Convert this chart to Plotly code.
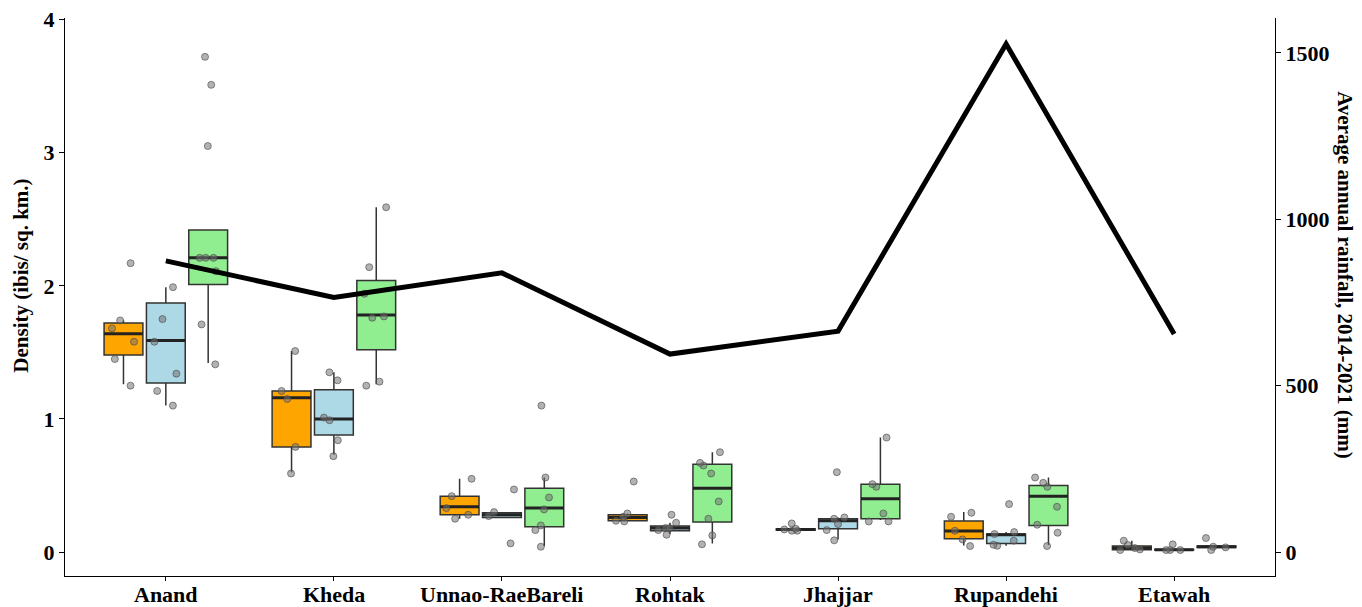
import plotly.graph_objects as go

districts = ["Anand", "Kheda", "Unnao-RaeBareli", "Rohtak", "Jhajjar", "Rupandehi", "Etawah"]
rainfall_mm = [875, 765, 839, 595, 664, 1527, 655]

# ---- orange group ----
orange_points = [
    [2.17, 1.74, 1.68, 1.58, 1.45, 1.25],
    [1.51, 1.21, 1.15, 0.79, 0.59],
    [0.55, 0.42, 0.33, 0.28, 0.25],
    [0.53, 0.29, 0.265, 0.235, 0.23],
    [0.215, 0.175, 0.17, 0.16, 0.16],
    [0.295, 0.265, 0.16, 0.095, 0.045],
    [0.085, 0.053, 0.03, 0.02, 0.015],
]
orange_low = [1.26, 0.60, 0.25, 0.23, 0.16, 0.05, 0.015]
orange_q1 = [1.48, 0.79, 0.28, 0.235, 0.163, 0.10, 0.018]
orange_med = [1.64, 1.16, 0.34, 0.26, 0.17, 0.158, 0.03]
orange_q3 = [1.72, 1.21, 0.42, 0.28, 0.175, 0.233, 0.045]
orange_high = [1.74, 1.51, 0.55, 0.29, 0.18, 0.30, 0.085]

# ---- blue group ----
blue_points = [
    [1.99, 1.75, 1.58, 1.34, 1.21, 1.10],
    [1.35, 1.29, 1.01, 0.99, 0.84, 0.72],
    [0.47, 0.30, 0.27, 0.065],
    [0.28, 0.22, 0.18, 0.18, 0.165, 0.13],
    [0.60, 0.26, 0.25, 0.21, 0.165, 0.088],
    [0.36, 0.15, 0.135, 0.085, 0.047, 0.055],
    [0.058, 0.015, 0.015, 0.015],
]
blue_low = [1.10, 0.73, 0.26, 0.135, 0.095, 0.047, 0.015]
blue_q1 = [1.27, 0.88, 0.26, 0.16, 0.175, 0.065, 0.015]
blue_med = [1.59, 1.00, 0.28, 0.18, 0.235, 0.13, 0.017]
blue_q3 = [1.87, 1.22, 0.295, 0.195, 0.25, 0.135, 0.02]
blue_high = [1.99, 1.35, 0.30, 0.22, 0.26, 0.15, 0.02]

# ---- green group ----
green_points = [
    [3.72, 3.51, 3.05, 2.21, 2.21, 2.21, 2.11, 1.71, 1.41],
    [2.59, 2.14, 1.94, 1.77, 1.76, 1.28, 1.25],
    [1.10, 0.56, 0.41, 0.32, 0.20, 0.165, 0.04],
    [0.75, 0.67, 0.65, 0.59, 0.38, 0.25, 0.125, 0.058],
    [0.86, 0.51, 0.49, 0.29, 0.23, 0.23],
    [0.56, 0.52, 0.49, 0.34, 0.205, 0.145, 0.045],
    [0.105, 0.04, 0.035, 0.015],
]
green_low = [1.42, 1.26, 0.045, 0.065, 0.24, 0.053, 0.03]
green_q1 = [2.01, 1.52, 0.19, 0.225, 0.25, 0.20, 0.035]
green_med = [2.21, 1.78, 0.33, 0.48, 0.40, 0.42, 0.04]
green_q3 = [2.42, 2.04, 0.48, 0.66, 0.51, 0.50, 0.045]
green_high = [2.42, 2.59, 0.56, 0.75, 0.86, 0.56, 0.05]

groups = [
    ("o", "#FFA500", orange_points, orange_low, orange_q1, orange_med, orange_q3, orange_high),
    ("b", "#ADD8E6", blue_points, blue_low, blue_q1, blue_med, blue_q3, blue_high),
    ("g", "#90EE90", green_points, green_low, green_q1, green_med, green_q3, green_high),
]

FONT = "Liberation Serif"
fig = go.Figure()

# boxes (pre-computed statistics)
for key, color, pts, lo, q1, med, q3, hi in groups:
    fig.add_trace(go.Box(
        x=districts, q1=q1, median=med, q3=q3, lowerfence=lo, upperfence=hi,
        offsetgroup=key, fillcolor=color, boxpoints=False,
        line=dict(color="#333333", width=1.5), whiskerwidth=0,
        showlegend=False, hoverinfo="skip",
    ))
    # thicker median bar, drawn as a flat box at the median
    fig.add_trace(go.Box(
        x=districts, q1=med, median=med, q3=med, lowerfence=med, upperfence=med,
        offsetgroup=key, fillcolor="rgba(0,0,0,0)", boxpoints=False,
        line=dict(color="#222222", width=3), whiskerwidth=0,
        showlegend=False, hoverinfo="skip",
    ))

# jittered observations
for key, color, pts, lo, q1, med, q3, hi in groups:
    xs, ys = [], []
    for d, vals in zip(districts, pts):
        xs += [d] * len(vals)
        ys += vals
    fig.add_trace(go.Box(
        x=xs, y=ys, offsetgroup=key, boxpoints="all", jitter=0.7, pointpos=0,
        fillcolor="rgba(0,0,0,0)", line=dict(color="rgba(0,0,0,0)", width=0),
        marker=dict(color="rgba(115,115,115,0.55)", size=7,
                    line=dict(color="rgba(70,70,70,0.6)", width=1)),
        showlegend=False, hoverinfo="y",
    ))

fig.add_trace(go.Scatter(
    x=districts, y=rainfall_mm, yaxis="y2", mode="lines",
    line=dict(color="black", width=5), showlegend=False,
))

tickfont = dict(family=FONT, size=22, color="black", weight="bold")

annotations = [
    dict(text="Density (ibis/ sq. km.)", xref="paper", yref="paper",
         x=-0.036, y=0.539, textangle=-90, showarrow=False,
         xanchor="center", yanchor="middle",
         font=dict(family=FONT, size=21, color="black", weight="bold")),
    dict(text="Average annual rainfall, 2014-2021 (mm)", xref="paper", yref="paper",
         x=1.0579, y=0.539, textangle=90, showarrow=False,
         xanchor="center", yanchor="middle",
         font=dict(family=FONT, size=21, color="black", weight="bold")),
]
# category labels under the x axis
for d in districts:
    annotations.append(dict(
        text=d, xref="x", yref="paper", x=d, y=0, yshift=-5,
        xanchor="center", yanchor="top", showarrow=False, borderpad=0,
        font=dict(family=FONT, size=22, color="black", weight="bold"),
    ))

fig.update_layout(
    width=1362, height=607,
    margin=dict(l=65, r=87, t=18, b=31, autoexpand=False),
    plot_bgcolor="white", paper_bgcolor="white",
    boxmode="group", boxgap=0.244, boxgroupgap=0.083,
    showlegend=False,
    xaxis=dict(type="category", categoryarray=districts, range=[-0.6, 6.6],
               showline=True, linecolor="black", linewidth=1, mirror=False,
               ticks="outside", ticklen=4, tickcolor="black",
               showticklabels=False, automargin=False,
               showgrid=False, zeroline=False),
    yaxis=dict(range=[-0.18, 4.012], tickvals=[0, 1, 2, 3, 4],
               showline=True, linecolor="black", linewidth=1,
               ticks="outside", ticklen=5, tickcolor="black", automargin=False,
               showgrid=False, zeroline=False, tickfont=tickfont),
    yaxis2=dict(overlaying="y", side="right", range=[-72, 1605],
                tickvals=[0, 500, 1000, 1500],
                showline=True, linecolor="black", linewidth=1,
                ticks="outside", ticklen=5, tickcolor="black", automargin=False,
                showgrid=False, zeroline=False, tickfont=tickfont),
    annotations=annotations,
)

fig.write_html("out.html")
